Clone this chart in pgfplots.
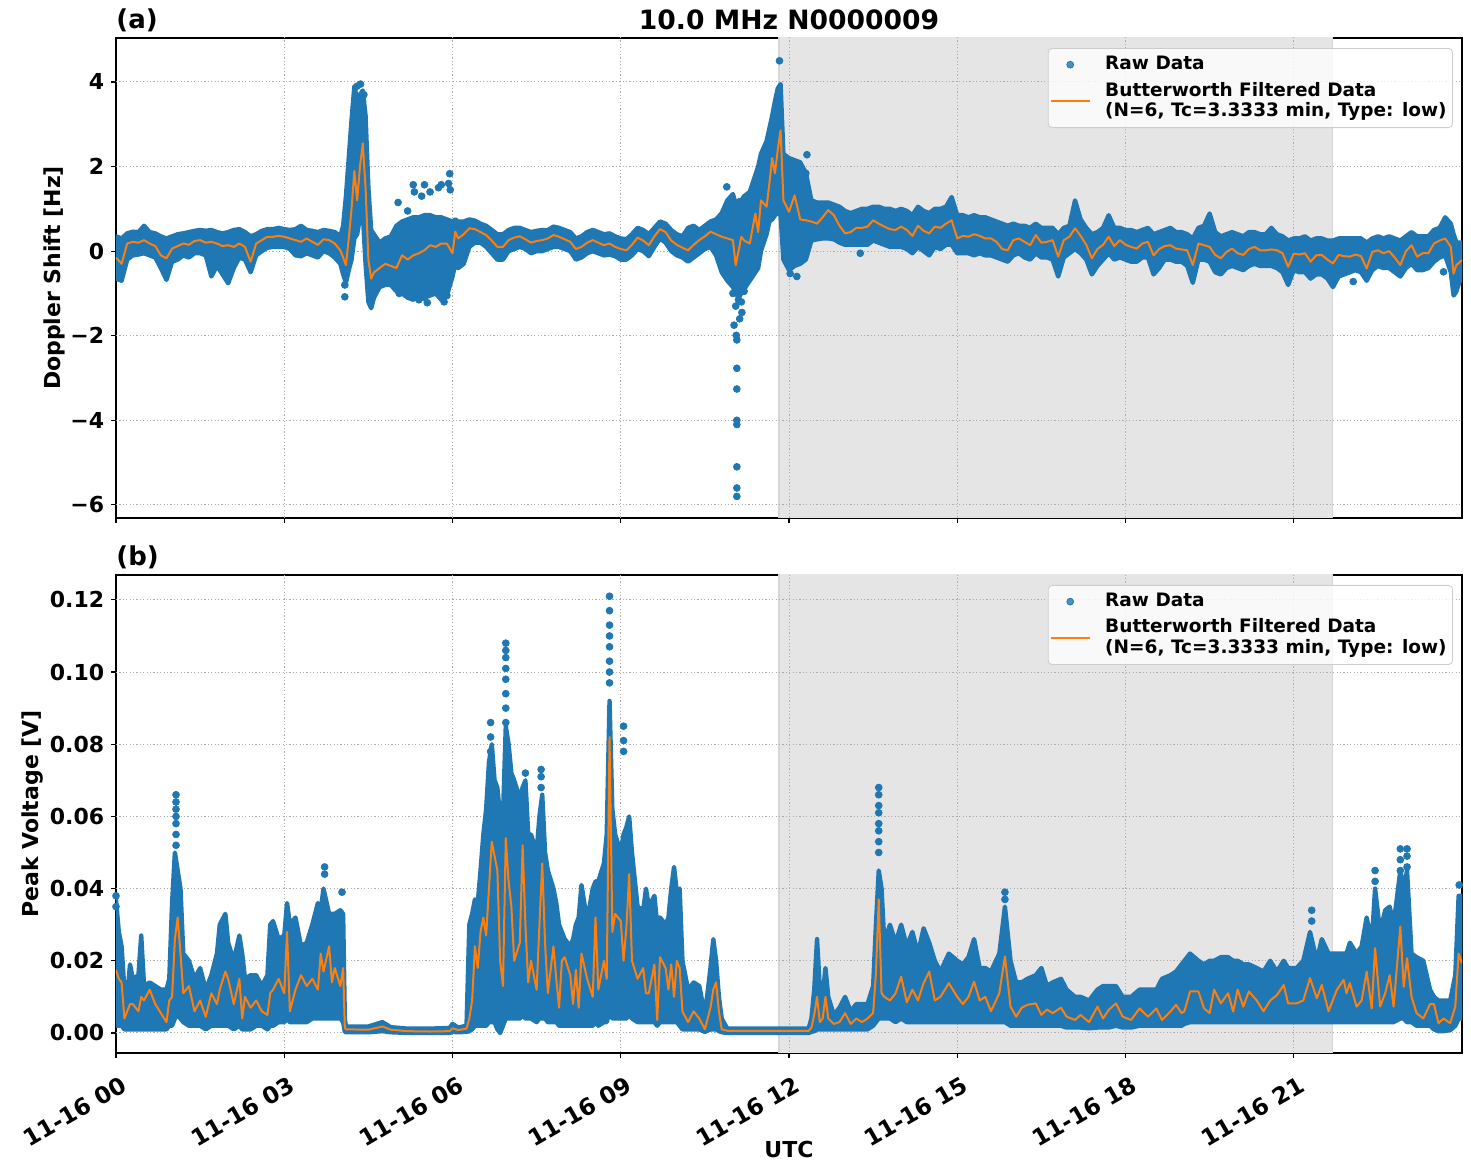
\documentclass[border=0pt]{standalone}
\usepackage{fontspec}
\setmainfont{DejaVu Sans}
\usepackage{pgfplots}
\pgfplotsset{compat=1.18}
\usepackage{pgfplotstable}
\definecolor{mplblue}{HTML}{1F77B4}
\definecolor{mplorange}{HTML}{FF7F0E}

\pgfplotsset{
  panel/.style={
    scale only axis, width=673pt, xmin=0, xmax=24,
    xtick={0,3,...,21},
    tick align=outside, tick pos=left, major tick length=2.4pt,
    axis line style={line width=0.55pt},
    every tick/.style={black, line width=0.55pt},
    tick label style={font=\bfseries\fontsize{11}{13}\selectfont},
    /pgf/number format/assume math mode=true,
    legend cell align=left,
    legend style={at={(rel axis cs:0.9933,0.979)}, anchor=north east,
      draw=black!20, fill=white, fill opacity=0.8, text opacity=1,
      rounded corners=2pt, font=\bfseries\fontsize{9.25}{10.3}\selectfont,
      cells={align=left}, row sep=0.5pt, column sep=5pt, inner xsep=1pt, inner ysep=2pt},
  },
  gridline/.style={color=black!32, line width=0.5pt, dash pattern=on 0.6pt off 1.1pt, forget plot},
  rawleg/.style={legend image code/.code={\fill[mplblue] (9.5pt,0pt) circle (1.7pt);}},
  filtleg/.style={legend image code/.code={\draw[mplorange, line width=1pt] (0pt,0pt) -- (19.5pt,0pt);}},
}

\pgfplotstableread{
t f lo hi
0.0 -0.15 -0.65 0.35
0.1 -0.30 -0.70 0.30
0.2 0.18 -0.20 0.42
0.3 0.22 -0.10 0.46
0.4 0.20 -0.08 0.45
0.5 0.26 -0.05 0.60
0.6 0.18 -0.10 0.45
0.7 0.12 -0.15 0.42
0.8 -0.10 -0.40 0.35
0.9 -0.17 -0.68 0.30
1.0 0.06 -0.25 0.35
1.1 0.12 -0.20 0.40
1.2 0.18 -0.10 0.42
1.3 0.15 -0.15 0.45
1.4 0.24 -0.05 0.48
1.5 0.26 -0.05 0.50
1.6 0.20 -0.10 0.48
1.7 0.22 -0.60 0.50
1.8 0.18 -0.35 0.45
1.9 0.12 -0.55 0.42
2.0 0.14 -0.76 0.45
2.1 0.10 -0.40 0.50
2.2 0.18 -0.15 0.52
2.3 0.10 -0.20 0.45
2.4 -0.25 -0.50 0.35
2.5 0.18 -0.10 0.40
2.6 0.26 0.00 0.48
2.7 0.34 0.08 0.52
2.8 0.34 0.10 0.52
2.9 0.36 0.10 0.55
3.0 0.34 0.10 0.52
3.1 0.30 0.05 0.50
3.2 0.26 -0.10 0.52
3.3 0.22 -0.12 0.60
3.4 0.30 -0.05 0.50
3.5 0.22 -0.10 0.48
3.6 0.15 -0.15 0.45
3.7 0.28 0.00 0.50
3.8 0.26 -0.05 0.48
3.9 0.18 -0.15 0.45
4.0 0.02 -0.30 0.35
4.05 -0.15 -0.55 0.60
4.10 -0.33 -0.75 1.30
4.15 0.30 -0.45 2.20
4.20 1.00 -0.20 3.10
4.25 1.90 0.30 3.90
4.30 1.20 0.40 3.60
4.35 2.00 0.80 3.70
4.40 2.55 0.90 3.80
4.45 1.50 -0.30 3.20
4.50 -0.20 -1.20 1.50
4.55 -0.65 -1.35 0.50
4.60 -0.50 -1.10 0.40
4.7 -0.40 -0.85 0.20
4.8 -0.30 -0.80 0.30
4.9 -0.35 -0.80 0.35
5.0 -0.40 -0.95 0.60
5.1 -0.10 -1.00 0.70
5.2 -0.20 -1.10 0.75
5.3 -0.10 -1.15 0.80
5.4 -0.05 -1.05 0.80
5.5 0.02 -1.10 0.85
5.6 0.14 -1.05 0.85
5.7 0.10 -1.00 0.80
5.8 0.18 -1.15 0.80
5.9 0.18 -1.05 0.75
6.0 -0.05 -0.60 0.70
6.05 0.46 -0.30 0.75
6.1 0.30 -0.40 0.70
6.2 0.40 -0.30 0.70
6.3 0.54 0.10 0.75
6.4 0.52 0.20 0.72
6.5 0.45 0.20 0.65
6.6 0.38 0.10 0.60
6.7 0.25 -0.05 0.50
6.8 0.10 -0.20 0.40
6.9 0.10 -0.20 0.40
7.0 0.26 0.00 0.50
7.1 0.32 0.05 0.55
7.2 0.35 0.10 0.55
7.3 0.28 0.05 0.50
7.4 0.20 -0.05 0.45
7.5 0.24 0.00 0.48
7.6 0.26 0.00 0.50
7.7 0.30 0.05 0.50
7.8 0.38 0.10 0.58
7.9 0.34 0.10 0.55
8.0 0.28 0.05 0.50
8.1 0.22 0.00 0.45
8.2 0.05 -0.20 0.30
8.3 0.10 -0.15 0.35
8.4 0.20 -0.05 0.45
8.5 0.26 0.00 0.50
8.6 0.20 -0.05 0.45
8.7 0.14 -0.10 0.40
8.8 0.18 -0.08 0.42
8.9 0.10 -0.12 0.35
9.0 0.05 -0.20 0.30
9.1 0.02 -0.20 0.28
9.2 0.15 -0.10 0.40
9.3 0.32 0.05 0.55
9.4 0.25 0.00 0.50
9.5 0.14 -0.12 0.40
9.6 0.35 0.10 0.55
9.7 0.52 0.30 0.70
9.8 0.45 0.20 0.65
9.9 0.25 0.00 0.50
10.0 0.15 -0.10 0.40
10.1 0.08 -0.15 0.35
10.2 0.02 -0.25 0.55
10.3 0.15 -0.15 0.60
10.4 0.26 -0.05 0.50
10.5 0.35 0.05 0.60
10.6 0.46 0.10 0.70
10.7 0.40 -0.10 0.75
10.8 0.34 -0.50 0.90
10.9 0.30 -0.70 1.20
11.0 0.26 -0.85 1.35
11.05 -0.33 -1.00 1.10
11.1 0.00 -1.10 1.20
11.15 0.34 -1.00 1.20
11.2 0.25 -0.90 1.30
11.3 0.18 -0.70 1.40
11.4 0.89 -0.50 1.80
11.45 0.45 -0.40 2.00
11.5 1.20 0.00 2.30
11.6 1.05 0.40 2.60
11.65 1.60 0.70 2.90
11.7 2.20 0.75 3.20
11.75 1.84 0.85 3.55
11.8 2.40 0.90 3.85
11.85 2.86 0.85 3.95
11.9 1.20 -0.20 2.30
12.0 0.93 -0.45 2.20
12.1 1.32 -0.35 2.15
12.2 0.75 -0.30 2.10
12.3 0.73 -0.20 1.85
12.4 0.70 0.25 1.20
12.5 0.65 0.28 1.15
12.6 0.80 0.30 1.15
12.7 0.97 0.30 1.15
12.8 0.85 0.28 1.10
12.9 0.60 0.20 1.05
13.0 0.42 0.15 0.95
13.1 0.45 0.15 0.90
13.2 0.55 0.15 0.95
13.3 0.55 0.15 1.00
13.4 0.58 0.15 1.00
13.5 0.73 0.25 1.05
13.6 0.65 0.20 1.05
13.7 0.58 0.15 1.00
13.8 0.52 0.10 1.00
13.9 0.50 0.10 0.95
14.0 0.58 0.10 1.00
14.1 0.50 0.05 0.95
14.2 0.36 -0.05 0.85
14.3 0.60 0.10 1.05
14.4 0.48 0.00 0.95
14.5 0.42 -0.10 0.90
14.6 0.58 0.10 1.00
14.7 0.55 0.05 1.00
14.8 0.65 0.15 1.05
14.9 0.73 0.15 1.28
15.0 0.30 -0.05 0.85
15.1 0.36 -0.05 0.85
15.2 0.34 -0.05 0.80
15.3 0.40 -0.10 0.85
15.4 0.36 -0.05 0.80
15.5 0.30 -0.10 0.80
15.6 0.30 -0.10 0.75
15.7 0.22 -0.15 0.70
15.8 0.05 -0.20 0.65
15.9 0.02 -0.25 0.60
16.0 0.26 -0.10 0.65
16.1 0.30 -0.05 0.60
16.2 0.22 -0.15 0.60
16.3 0.14 -0.20 0.55
16.4 0.38 -0.05 0.65
16.5 0.20 -0.15 0.55
16.6 0.22 -0.15 0.55
16.7 0.26 -0.20 0.55
16.8 -0.13 -0.60 0.40
16.9 0.26 -0.15 0.55
17.0 0.34 -0.05 0.60
17.1 0.54 0.05 1.20
17.2 0.36 -0.05 0.75
17.3 0.15 -0.20 0.55
17.4 -0.17 -0.55 0.40
17.5 0.05 -0.35 0.45
17.6 0.15 -0.20 0.55
17.7 0.34 -0.05 0.85
17.8 0.12 -0.20 0.55
17.9 0.26 -0.15 0.55
18.0 0.15 -0.20 0.50
18.1 0.10 -0.25 0.50
18.2 0.06 -0.25 0.45
18.3 0.18 -0.15 0.50
18.4 0.22 -0.15 0.55
18.5 -0.10 -0.55 0.40
18.6 0.05 -0.40 0.45
18.7 0.12 -0.20 0.50
18.8 0.14 -0.20 0.55
18.9 0.06 -0.25 0.45
19.0 0.04 -0.25 0.45
19.1 0.02 -0.35 0.40
19.2 -0.33 -0.75 0.30
19.3 0.18 -0.20 0.55
19.4 0.14 -0.20 0.60
19.5 0.10 -0.25 0.89
19.6 -0.09 -0.50 0.45
19.7 -0.17 -0.55 0.35
19.8 -0.02 -0.40 0.40
19.9 0.06 -0.35 0.45
20.0 -0.05 -0.40 0.40
20.1 -0.09 -0.45 0.35
20.2 0.05 -0.35 0.45
20.3 0.10 -0.30 0.45
20.4 0.02 -0.35 0.40
20.5 0.02 -0.35 0.40
20.6 0.04 -0.35 0.55
20.7 0.02 -0.40 0.40
20.8 -0.05 -0.50 0.35
20.9 -0.37 -0.80 0.25
21.0 -0.06 -0.45 0.30
21.1 -0.08 -0.50 0.30
21.2 -0.05 -0.50 0.35
21.3 -0.25 -0.65 0.25
21.4 -0.10 -0.55 0.30
21.5 -0.09 -0.55 0.30
21.6 -0.20 -0.65 0.25
21.7 -0.29 -0.85 0.25
21.8 -0.09 -0.60 0.30
21.9 -0.12 -0.55 0.30
22.0 -0.13 -0.50 0.30
22.1 -0.08 -0.45 0.30
22.2 -0.12 -0.50 0.30
22.3 -0.41 -0.70 0.20
22.4 -0.02 -0.45 0.30
22.5 0.02 -0.35 0.35
22.6 -0.05 -0.40 0.30
22.7 0.00 -0.40 0.35
22.8 -0.15 -0.50 0.30
22.9 -0.33 -0.60 0.25
23.0 0.00 -0.40 0.35
23.1 0.14 -0.30 0.45
23.2 -0.13 -0.45 0.35
23.3 -0.05 -0.45 0.35
23.4 -0.05 -0.40 0.35
23.5 0.18 -0.25 0.50
23.6 0.25 -0.15 0.55
23.7 0.30 -0.10 0.80
23.8 0.10 -0.50 0.65
23.85 -0.53 -1.05 0.40
23.9 -0.33 -0.95 0.20
24.0 -0.21 -0.55 0.20
}\dataA

\pgfplotstableread{
t f lo hi
0.0 0.0175 0.002 0.037
0.05 0.015 0.002 0.028
0.1 0.014 0.002 0.024
0.15 0.004 0.001 0.012
0.2 0.006 0.001 0.010
0.25 0.008 0.001 0.019
0.3 0.008 0.001 0.015
0.4 0.006 0.001 0.016
0.45 0.010 0.001 0.027
0.5 0.009 0.001 0.013
0.6 0.012 0.001 0.014
0.7 0.008 0.001 0.013
0.8 0.0055 0.001 0.012
0.9 0.003 0.001 0.012
0.95 0.009 0.002 0.015
1.0 0.010 0.002 0.036
1.05 0.026 0.004 0.050
1.1 0.032 0.005 0.045
1.15 0.022 0.004 0.040
1.2 0.011 0.003 0.022
1.3 0.013 0.002 0.020
1.4 0.006 0.002 0.015
1.5 0.009 0.002 0.018
1.6 0.0045 0.001 0.012
1.7 0.011 0.002 0.016
1.8 0.008 0.002 0.022
1.85 0.012 0.002 0.030
1.95 0.017 0.002 0.033
2.0 0.015 0.002 0.025
2.1 0.008 0.001 0.020
2.2 0.015 0.002 0.027
2.25 0.004 0.001 0.022
2.3 0.010 0.001 0.015
2.4 0.007 0.001 0.016
2.5 0.009 0.002 0.016
2.6 0.006 0.002 0.013
2.7 0.005 0.001 0.016
2.75 0.011 0.002 0.030
2.8 0.012 0.002 0.031
2.9 0.015 0.003 0.026
3.0 0.011 0.003 0.027
3.05 0.028 0.004 0.036
3.1 0.006 0.003 0.030
3.2 0.012 0.003 0.032
3.3 0.016 0.003 0.024
3.4 0.013 0.003 0.025
3.5 0.015 0.004 0.030
3.6 0.012 0.004 0.036
3.65 0.022 0.004 0.034
3.7 0.017 0.004 0.040
3.8 0.024 0.004 0.033
3.85 0.014 0.004 0.033
3.9 0.018 0.004 0.033
4.0 0.013 0.004 0.034
4.05 0.018 0.003 0.033
4.08 0.0015 0.0003 0.004
4.1 0.001 0.0002 0.0018
4.5 0.0009 0.0002 0.0018
4.75 0.0018 0.0005 0.003
4.9 0.0009 0.0002 0.0016
5.2 0.0005 0.0 0.0012
5.6 0.0004 0.0 0.0012
5.95 0.0005 0.0 0.0014
6.0 0.0013 0.0003 0.0025
6.1 0.0008 0.0002 0.0015
6.25 0.0012 0.0003 0.002
6.3 0.004 0.0005 0.030
6.35 0.009 0.001 0.033
6.4 0.024 0.002 0.037
6.45 0.018 0.002 0.036
6.5 0.028 0.002 0.045
6.55 0.032 0.002 0.055
6.6 0.027 0.002 0.062
6.65 0.040 0.003 0.075
6.7 0.053 0.003 0.080
6.75 0.049 0.003 0.070
6.8 0.045 0.001 0.068
6.85 0.020 0.0 0.060
6.9 0.013 0.002 0.060
6.95 0.054 0.004 0.085
7.0 0.042 0.004 0.080
7.05 0.035 0.004 0.072
7.1 0.020 0.004 0.070
7.2 0.025 0.004 0.065
7.25 0.052 0.005 0.068
7.3 0.030 0.004 0.070
7.35 0.014 0.004 0.055
7.4 0.020 0.004 0.055
7.5 0.012 0.003 0.050
7.55 0.030 0.004 0.060
7.6 0.047 0.004 0.066
7.65 0.025 0.004 0.050
7.7 0.011 0.003 0.045
7.8 0.024 0.003 0.040
7.85 0.015 0.003 0.036
7.9 0.007 0.002 0.030
7.95 0.020 0.002 0.028
8.0 0.021 0.002 0.026
8.1 0.016 0.002 0.024
8.15 0.008 0.002 0.026
8.2 0.0175 0.002 0.030
8.25 0.007 0.002 0.032
8.3 0.022 0.002 0.041
8.4 0.015 0.002 0.031
8.5 0.010 0.002 0.040
8.55 0.032 0.003 0.042
8.6 0.012 0.002 0.042
8.7 0.020 0.003 0.047
8.75 0.015 0.003 0.055
8.8 0.082 0.006 0.092
8.85 0.028 0.004 0.062
8.9 0.033 0.004 0.055
9.0 0.031 0.004 0.050
9.05 0.020 0.004 0.055
9.1 0.029 0.004 0.057
9.15 0.044 0.005 0.060
9.2 0.020 0.004 0.050
9.3 0.015 0.003 0.035
9.4 0.018 0.003 0.034
9.45 0.011 0.003 0.040
9.5 0.011 0.003 0.035
9.6 0.019 0.003 0.038
9.65 0.0036 0.002 0.030
9.7 0.021 0.003 0.032
9.8 0.018 0.003 0.030
9.85 0.012 0.003 0.032
9.9 0.019 0.003 0.040
9.95 0.010 0.003 0.046
10.0 0.020 0.003 0.039
10.05 0.018 0.002 0.040
10.1 0.006 0.001 0.020
10.2 0.003 0.001 0.012
10.3 0.006 0.001 0.014
10.4 0.004 0.001 0.013
10.5 0.001 0.0003 0.005
10.6 0.007 0.001 0.018
10.65 0.012 0.001 0.026
10.7 0.014 0.001 0.020
10.75 0.006 0.0005 0.010
10.8 0.001 0.0002 0.004
10.9 0.0006 0.0 0.0012
12.35 0.0006 0.0 0.0012
12.4 0.0015 0.0003 0.004
12.45 0.005 0.0005 0.012
12.5 0.010 0.001 0.026
12.55 0.003 0.001 0.012
12.6 0.004 0.001 0.010
12.65 0.010 0.001 0.018
12.7 0.004 0.001 0.010
12.8 0.0025 0.001 0.005
12.9 0.003 0.001 0.007
13.0 0.0055 0.001 0.010
13.1 0.0025 0.001 0.006
13.2 0.004 0.001 0.008
13.3 0.003 0.001 0.008
13.4 0.004 0.001 0.008
13.5 0.0055 0.002 0.013
13.55 0.0165 0.003 0.030
13.6 0.037 0.004 0.045
13.65 0.011 0.004 0.040
13.7 0.010 0.004 0.025
13.8 0.009 0.004 0.030
13.9 0.011 0.003 0.025
14.0 0.0156 0.004 0.030
14.1 0.0085 0.003 0.024
14.2 0.012 0.003 0.028
14.3 0.009 0.003 0.022
14.4 0.0138 0.003 0.029
14.5 0.017 0.003 0.025
14.6 0.009 0.003 0.020
14.7 0.010 0.003 0.017
14.85 0.0138 0.003 0.022
15.0 0.010 0.003 0.020
15.1 0.008 0.003 0.019
15.2 0.010 0.003 0.021
15.3 0.0142 0.003 0.026
15.4 0.009 0.003 0.018
15.5 0.010 0.003 0.018
15.6 0.006 0.003 0.017
15.75 0.011 0.003 0.022
15.85 0.0212 0.003 0.035
15.95 0.0073 0.002 0.020
16.05 0.0045 0.002 0.014
16.15 0.007 0.002 0.014
16.25 0.0078 0.002 0.015
16.4 0.0082 0.002 0.016
16.5 0.005 0.002 0.018
16.6 0.0065 0.002 0.013
16.7 0.0055 0.002 0.014
16.85 0.007 0.002 0.015
16.95 0.0045 0.0015 0.012
17.1 0.0036 0.0015 0.010
17.2 0.005 0.0015 0.010
17.35 0.003 0.0013 0.009
17.5 0.0073 0.0015 0.012
17.6 0.004 0.0015 0.013
17.7 0.0064 0.0015 0.013
17.83 0.0082 0.002 0.013
17.95 0.0045 0.0015 0.010
18.1 0.0036 0.0015 0.010
18.25 0.0068 0.002 0.012
18.4 0.0045 0.002 0.012
18.55 0.0068 0.002 0.012
18.65 0.0036 0.002 0.015
18.8 0.0059 0.002 0.016
18.9 0.0078 0.002 0.017
19.0 0.0055 0.002 0.019
19.05 0.006 0.0025 0.020
19.15 0.0115 0.003 0.022
19.3 0.0115 0.003 0.020
19.4 0.0068 0.003 0.019
19.5 0.0055 0.003 0.020
19.58 0.012 0.003 0.020
19.7 0.0082 0.003 0.021
19.83 0.011 0.003 0.021
19.92 0.0059 0.003 0.020
20.0 0.012 0.003 0.020
20.1 0.0073 0.003 0.019
20.2 0.0115 0.003 0.019
20.34 0.009 0.003 0.018
20.46 0.006 0.003 0.017
20.58 0.009 0.003 0.020
20.7 0.0105 0.003 0.017
20.82 0.0133 0.003 0.020
20.9 0.0082 0.003 0.018
21.05 0.0082 0.003 0.018
21.17 0.009 0.003 0.020
21.29 0.0152 0.003 0.028
21.41 0.0096 0.003 0.020
21.5 0.0133 0.003 0.026
21.62 0.006 0.003 0.022
21.77 0.012 0.003 0.022
21.89 0.0147 0.003 0.022
21.94 0.011 0.003 0.022
22.0 0.0138 0.003 0.025
22.12 0.0073 0.003 0.022
22.21 0.009 0.003 0.024
22.3 0.017 0.003 0.032
22.39 0.0068 0.003 0.025
22.45 0.0235 0.003 0.040
22.54 0.0073 0.003 0.028
22.63 0.011 0.003 0.034
22.71 0.016 0.003 0.035
22.78 0.0073 0.003 0.030
22.9 0.0295 0.004 0.045
22.96 0.0128 0.004 0.040
23.02 0.0207 0.003 0.045
23.1 0.010 0.003 0.022
23.19 0.0055 0.002 0.021
23.31 0.004 0.002 0.020
23.43 0.008 0.002 0.012
23.5 0.008 0.001 0.010
23.58 0.0027 0.0005 0.009
23.67 0.004 0.0005 0.009
23.79 0.0027 0.0008 0.009
23.88 0.0073 0.002 0.016
23.94 0.022 0.004 0.038
24.0 0.0193 0.004 0.038
}\dataB

\begin{document}
\bfseries
\begin{tikzpicture}
\path[use as bounding box] (-58pt,-59.5pt) rectangle (677.5pt,526.5pt);

% ---------------- top panel (a) ----------------
\begin{axis}[panel, name=top, at={(0pt,267.5pt)}, anchor=south west,
  height=240pt, ymin=-6.31, ymax=5.04,
  ytick={-6,-4,-2,0,2,4}, yticklabels={−6,−4,−2,0,2,4},
  xticklabels={},
  ylabel={Doppler Shift [Hz]},
  every axis y label/.style={at={(axis description cs:-0.0461,0.5)}, rotate=90, anchor=center, font=\bfseries\fontsize{11}{13}\selectfont},
]
\addplot[fill=black!10, draw=none, forget plot]
  coordinates {(11.82,-10) (21.69,-10) (21.69,10) (11.82,10) (11.82,-10)};
\addplot[draw=black!16, line width=0.6pt, forget plot] coordinates {(11.82,-10) (11.82,10)};
\addplot[draw=black!16, line width=0.6pt, forget plot] coordinates {(21.69,-10) (21.69,10)};
\pgfplotsinvokeforeach{3,6,9,12,15,18,21}{\addplot[gridline] coordinates {(#1,-10) (#1,10)};}
\pgfplotsinvokeforeach{-6,-4,-2,0,2,4}{\addplot[gridline] coordinates {(0,#1) (24,#1)};}
\addplot[stack plots=y, draw=none, forget plot] table[x=t,y=lo]{\dataA};
\addplot[stack plots=y, fill=mplblue, draw=mplblue, line width=2.2pt, line join=round, forget plot]
  table[x=t, y expr=\thisrow{hi}-\thisrow{lo}]{\dataA} \closedcycle;
\addplot[only marks, mark=*, mark size=1.7pt, color=mplblue, rawleg] coordinates {
 (4.08,-0.8) (4.08,-1.08) (4.30,3.90) (4.36,3.95) (4.42,3.70) (4.25,3.4)
 (5.03,1.15) (5.20,0.95) (5.30,1.57) (5.32,1.40) (5.45,1.30) (5.50,1.57)
 (5.60,1.40) (5.75,1.50) (5.80,1.57) (5.93,1.60) (5.95,1.83) (5.96,1.45)
 (5.05,-1.0) (5.25,-1.05) (5.40,-1.15) (5.50,-1.10) (5.55,-1.22) (5.85,-1.20) (5.90,-1.05)
 (10.89,1.52) (11.00,-1.0) (11.05,-1.3) (11.10,-1.15) (11.15,-1.2) (11.20,-0.95)
 (11.02,-1.75) (11.06,-1.99) (11.07,-2.10) (11.07,-2.77) (11.07,-3.26) (11.07,-4.00)
 (11.07,-4.10) (11.07,-5.10) (11.07,-5.60) (11.07,-5.80) (11.12,-1.6) (11.16,-1.45)
 (11.83,4.50) (12.32,2.28) (12.30,1.84) (12.02,-0.53) (12.14,-0.60) (13.27,-0.05)
 (22.06,-0.72) (23.67,-0.49)
};
\addlegendentry{Raw Data}
\addplot[mplorange, line width=1pt, line join=round, filtleg] table[x=t,y=f]{\dataA};
\addlegendentry{Butterworth Filtered Data\\(N=6, Tc=3.3333 min, Type: low)}
\end{axis}

% ---------------- bottom panel (b) ----------------
\begin{axis}[panel, name=bot, at={(0pt,0pt)}, anchor=south west,
  height=239pt, ymin=-0.00554, ymax=0.1269,
  ytick={0,0.02,0.04,0.06,0.08,0.10,0.12},
  yticklabels={0.00,0.02,0.04,0.06,0.08,0.10,0.12},
  xticklabels={11-16 00,11-16 03,11-16 06,11-16 09,11-16 12,11-16 15,11-16 18,11-16 21},
  x tick label style={rotate=30, anchor=north east, inner sep=0pt, yshift=-8.5pt, xshift=-2.5pt, font=\bfseries\fontsize{11.6}{13}\selectfont},
  ylabel={Peak Voltage [V]}, xlabel={UTC},
  every axis y label/.style={at={(axis description cs:-0.0617,0.5)}, rotate=90, anchor=center, font=\bfseries\fontsize{11}{13}\selectfont},
  every axis x label/.style={at={(axis description cs:0.5,-0.2029)}, anchor=center, font=\bfseries\fontsize{11}{13}\selectfont},
]
\addplot[fill=black!10, draw=none, forget plot]
  coordinates {(11.82,-1) (21.69,-1) (21.69,1) (11.82,1) (11.82,-1)};
\addplot[draw=black!16, line width=0.6pt, forget plot] coordinates {(11.82,-1) (11.82,1)};
\addplot[draw=black!16, line width=0.6pt, forget plot] coordinates {(21.69,-1) (21.69,1)};
\pgfplotsinvokeforeach{3,6,9,12,15,18,21}{\addplot[gridline] coordinates {(#1,-1) (#1,1)};}
\pgfplotsinvokeforeach{0,0.02,0.04,0.06,0.08,0.10,0.12}{\addplot[gridline] coordinates {(0,#1) (24,#1)};}
\addplot[stack plots=y, draw=none, forget plot] table[x=t,y=lo]{\dataB};
\addplot[stack plots=y, fill=mplblue, draw=mplblue, line width=2.2pt, line join=round, forget plot]
  table[x=t, y expr=\thisrow{hi}-\thisrow{lo}]{\dataB} \closedcycle;
\addplot[only marks, mark=*, mark size=1.7pt, color=mplblue, rawleg] coordinates {
 (0.0,0.038) (0.0,0.035)
 (1.07,0.052) (1.07,0.055) (1.07,0.058) (1.07,0.060) (1.07,0.062) (1.07,0.064) (1.07,0.066)
 (3.72,0.044) (3.72,0.046) (4.03,0.039)
 (6.68,0.078) (6.68,0.082) (6.68,0.086)
 (6.95,0.086) (6.95,0.090) (6.95,0.094) (6.95,0.098) (6.95,0.101) (6.95,0.104) (6.95,0.106) (6.95,0.108)
 (7.30,0.072) (7.58,0.068) (7.58,0.071) (7.58,0.073)
 (8.80,0.097) (8.80,0.100) (8.80,0.103) (8.80,0.107) (8.80,0.110) (8.80,0.113) (8.80,0.117) (8.80,0.121)
 (9.05,0.078) (9.05,0.081) (9.05,0.085)
 (13.60,0.050) (13.60,0.053) (13.60,0.056) (13.60,0.058) (13.60,0.061) (13.60,0.063) (13.60,0.066) (13.60,0.068)
 (15.85,0.037) (15.85,0.039) (21.32,0.031) (21.32,0.034)
 (22.45,0.042) (22.45,0.045) (22.90,0.045) (22.90,0.048) (22.90,0.051)
 (23.02,0.046) (23.02,0.049) (23.02,0.051) (23.95,0.041)
};
\addlegendentry{Raw Data}
\addplot[mplorange, line width=1pt, line join=round, filtleg] table[x=t,y=f]{\dataB};
\addlegendentry{Butterworth Filtered Data\\(N=6, Tc=3.3333 min, Type: low)}
\end{axis}

\node[font=\bfseries\fontsize{13.3}{16}\selectfont, anchor=center] at ([yshift=9pt]top.north) {10.0 MHz N0000009};
\node[font=\bfseries\fontsize{13}{16}\selectfont, anchor=west, inner sep=0pt] at ([yshift=9pt]top.north west) {(a)};
\node[font=\bfseries\fontsize{13}{16}\selectfont, anchor=west, inner sep=0pt] at ([yshift=9pt]bot.north west) {(b)};
\end{tikzpicture}
\end{document}
